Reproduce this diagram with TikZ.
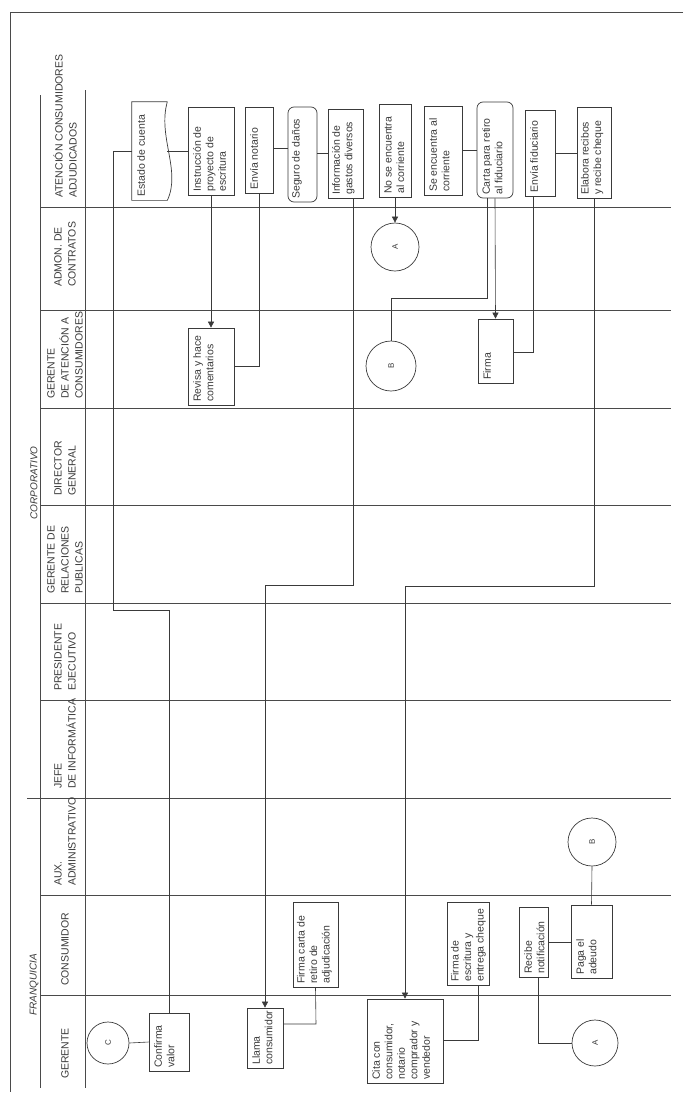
\documentclass[tikz,border=0pt]{standalone}
\usepackage{fontspec}
\setmainfont{Liberation Sans}
\usetikzlibrary{arrows.meta,calc}
\definecolor{ink}{HTML}{3A3A3A}
\definecolor{lanec}{HTML}{4A4A4A}
% \bx{name}{x1}{y1}{x2}{y2}{style}{lines}{text}
\newcommand{\bx}[8]{%
  \node[#6,minimum width={(#4-#2)*1pt},minimum height={(#5-#3)*1pt}] (#1) at ({(#2+#4)/2},{(#3+#5)/2}) {};
  \node[btext] (#1-t) at ({#2+9+(#7-1)*6.25},{#5-3}) {#8};}
\begin{document}
\begin{tikzpicture}[x=1pt,y=-1pt,
  every node/.style={text=ink},
  lane/.style={draw=lanec,line width=0.9pt},
  frame/.style={draw=lanec,line width=0.9pt},
  boxs/.style={draw=ink,line width=0.7pt,inner sep=0pt},
  rbox/.style={boxs,rounded corners=6pt},
  doc/.style={boxs,draw=none},
  btext/.style={rotate=90,anchor=west,align=left,inner sep=0pt,font=\fontsize{10.5}{12.5}\selectfont},
  circ/.style={draw=ink,line width=0.7pt,circle,inner sep=0pt,font=\fontsize{8}{9}\selectfont},
  lbl/.style={rotate=90,align=left,anchor=west,inner sep=0pt,font=\fontsize{10.5}{14}\selectfont},
  grp/.style={rotate=90,inner sep=0pt,font=\fontsize{10}{12}\selectfont\itshape},
  conn/.style={draw=ink,line width=0.6pt},
  arr/.style={conn,-{Triangle[width=6pt,length=6pt]}}
]
\useasboundingbox (0,0) rectangle (686,1095);

% frame and lanes
\draw[frame] (683,12) -- (10,12) -- (10,1092);
\draw[lane] (40,95) -- (40,1088);
\draw[lane] (85,90) -- (85,1088);
\foreach \yy in {207,310,408,505,603,700,895,995} \draw[lane] (40,\yy) -- (671,\yy);
\draw[lane] (27,798) -- (671,798);

% group labels
\node[grp] (gcorp) at (34,483) {CORPORATIVO};
\node[grp] (gfran) at (34,985) {FRANQUICIA};

% lane labels
\node[lbl] (l1) at (65,198) {ATENCIÓN CONSUMIDORES\\ADJUDICADOS};
\node[lbl] (l2) at (65,287) {ADMON. DE\\CONTRATOS};
\node[lbl] (l3) at (65,399) {GERENTE\\DE ATENCIÓN A\\CONSUMIDORES};
\node[lbl] (l4) at (65,496) {DIRECTOR\\GENERAL};
\node[lbl] (l5) at (65,594) {GERENTE DE\\RELACIONES\\PUBLICAS};
\node[lbl] (l6) at (65,691) {PRESIDENTE\\EJECUTIVO};
\node[lbl] (l7) at (65,789) {JEFE\\DE INFORMÁTICA};
\node[lbl] (l8) at (65,886) {AUX.\\ADMINISTRATIVO};
\node[lbl] (l9) at (65,986) {CONSUMIDOR};
\node[lbl] (l10) at (65,1079) {GERENTE};

% top lane boxes
\bx{estado}{132}{102}{167}{200}{doc}{1}{Estado de cuenta}
\draw[draw=ink,line width=0.7pt] (estado.north east) -- (estado.north west) -- (estado.south west) -- (estado.south east)
  .. controls ($(estado.south east)+(14,-30)$) and ($(estado.north east)+(-10,35)$) .. (estado.north east);
\bx{instr}{188}{107}{234}{195}{boxs}{3}{Instrucción de\\proyecto de\\escritura}
\bx{envnot}{245}{107}{273}{193}{boxs}{1}{Envía notario}
\bx{seguro}{288}{107}{317}{202}{rbox}{1}{Seguro de daños}
\bx{info}{328}{109}{363}{198}{boxs}{2}{Información de\\gastos diversos}
\bx{nose}{379}{104}{411}{197}{boxs}{2}{No se encuentra\\al corriente}
\bx{sese}{424}{106}{462}{195}{boxs}{2}{Se encuentra al\\corriente}
\bx{carta}{477}{102}{513}{198}{rbox}{2}{Carta para retiro\\al fiduciario}
\bx{envfid}{525}{110}{555}{196}{boxs}{1}{Envía fiduciario}
\bx{elabora}{577}{107}{611}{198}{boxs}{2}{Elabora recibos\\y recibe cheque}

% middle lanes
\node[circ,minimum size=48pt] (circA1) at (395,247) {\rotatebox{90}{A}};
\bx{revisa}{188}{328}{234}{405}{boxs}{2}{Revisa y hace\\comentarios}
\node[circ,minimum size=50pt] (circB1) at (391,366) {\rotatebox{90}{B}};
\bx{firma}{478}{319}{513}{383}{boxs}{1}{Firma}
\node[circ,minimum size=48pt] (circB2) at (592,842) {\rotatebox{90}{B}};

% consumidor lane
\bx{firmacarta}{293}{902}{338}{987}{boxs}{3}{Firma carta de\\retiro de\\adjudicación}
\bx{firmaesc}{447}{902}{489}{985}{boxs}{3}{Firma de\\escritura y\\entrega cheque}
\bx{recibe}{519}{907}{548}{977}{boxs}{2}{Recibe\\notificación}
\bx{paga}{571}{905}{612}{978}{boxs}{2}{Paga el\\adeudo}

% gerente lane
\node[circ,minimum size=42pt] (circC) at (108,1043) {\rotatebox{90}{C}};
\bx{confirma}{149}{1013}{189}{1071}{boxs}{2}{Confirma\\valor}
\bx{llama}{247}{1008}{283}{1068}{boxs}{2}{Llama\\consumidor}
\bx{cita}{367}{999}{443}{1083}{boxs}{5}{Cita con\\consumidor,\\notario\\comprador y\\vendedor}
\node[circ,minimum size=46pt] (circA2) at (595,1043) {\rotatebox{90}{A}};

% bend coordinates
\coordinate (j1) at (113,610);
\coordinate (b2) at (353,585);
\coordinate (b3) at (487,298);
\coordinate (b4) at (533,352);
\coordinate (b5) at (594,586);
\coordinate (b6) at (316,1024);
\coordinate (b7) at (538,1043);
\coordinate (b8) at (478,1040);

% connectors
\draw[conn] (estado.west) -| (j1) -| (confirma.north);
\draw[conn] (estado.east) -- (instr.west);
\draw[arr] (instr.south) -- (revisa.north);
\draw[conn] (envnot.south) |- (revisa.east);
\draw[conn] (envnot.east |- 0,148) -- (seguro.west |- 0,148);
\draw[conn] (seguro.east |- 0,153) -- (info.west |- 0,153);
\draw[arr] (info.south -| b2) -- (b2) -| (llama.north);
\draw[arr] (nose.south) -- (circA1.north);
\draw[conn] (sese.east |- 0,150) -- (carta.west |- 0,150);
\draw[conn] (carta.south -| b3) -- (b3) -| (circB1.north);
\draw[arr] (carta.south) -- (firma.north);
\draw[conn] (envfid.south -| b4) -- (b4) -- (b4 -| firma.east);
\draw[conn] (envfid.east |- 0,153) -- (elabora.west |- 0,153);
\draw[arr] (elabora.south) -- (b5) -| (cita.north);
\draw[conn] (circC.east) -- (confirma.west);
\draw[conn] (firmacarta.south) -- (b6) -- (b6 -| llama.east);
\draw[conn] (firmaesc.south -| b8) -- (b8) -- (b8 -| cita.east);
\draw[conn] (recibe.east |- 0,942) -- (paga.west |- 0,942);
\draw[conn] (recibe.south -| b7) -- (b7) -- (circA2.west);
\draw[conn] (paga.north) -- (circB2.south);
\end{tikzpicture}
\end{document}
